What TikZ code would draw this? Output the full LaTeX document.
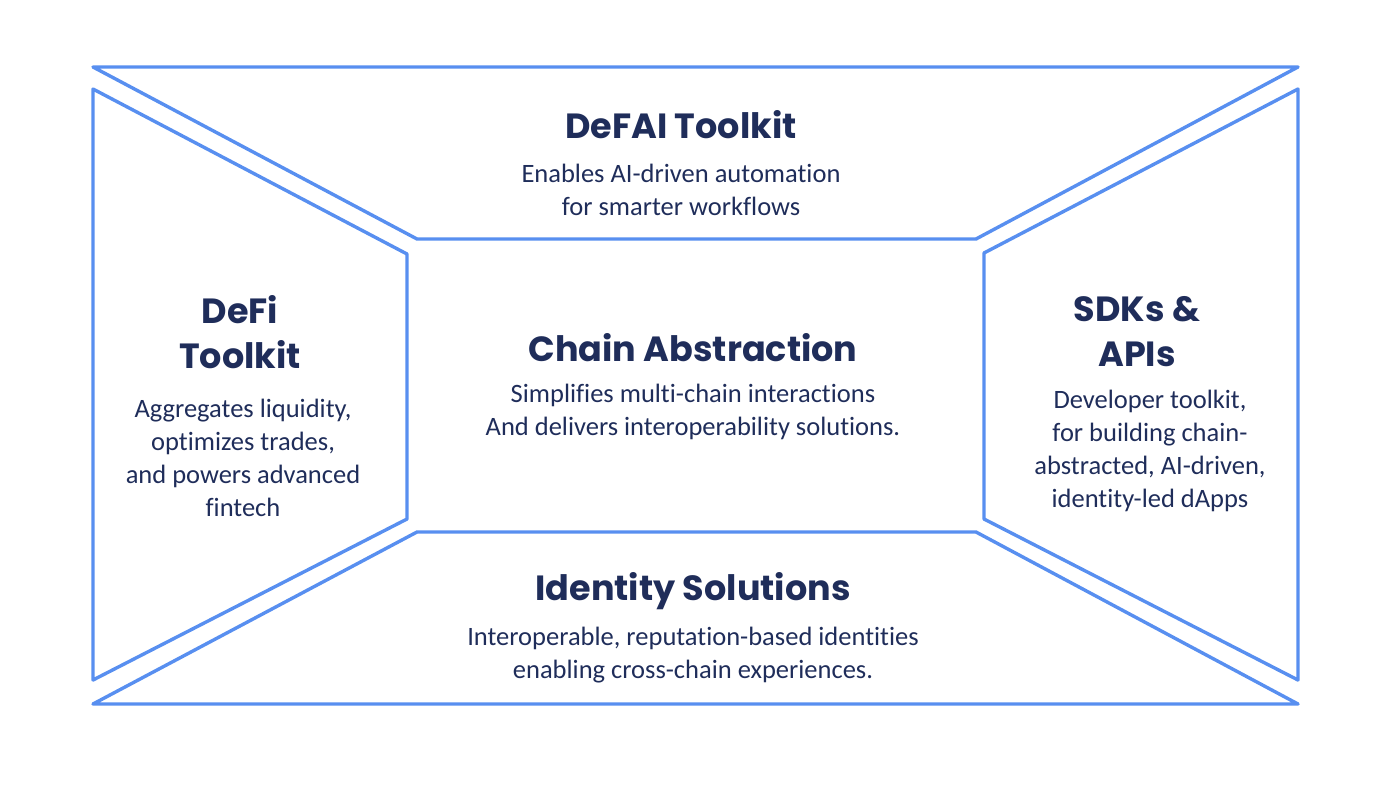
\documentclass[tikz,border=0pt]{standalone}
\usepackage{fontspec}
\setmainfont{Carlito}[Ligatures=NoCommon]
\newfontfamily\headfont{Poppins}
\usetikzlibrary{positioning}
\definecolor{panelblue}{RGB}{88,143,240}
\definecolor{inkblue}{RGB}{31,45,90}
\tikzset{
  panel/.style ={draw=panelblue,line width=3.4pt,line join=round},
  head/.style  ={font=\headfont\bfseries\fontsize{35}{45}\selectfont,text=inkblue,align=center,inner sep=0pt},
  body/.style  ={font=\fontsize{26.5}{33}\selectfont,text=inkblue,align=center,inner sep=0pt},
}

\begin{document}
\begin{tikzpicture}[x=1pt,y=-1pt]
  \useasboundingbox (0,0) rectangle (1400,796);
  % four panels round the centre
  \draw[panel] (93,67) -- (1298,67) -- (976,239) -- (417,239) -- cycle;
  \draw[panel] (93,89) -- (407,254) -- (407,519) -- (93,680) -- cycle;
  \draw[panel] (1298,89) -- (984,253) -- (984,519) -- (1298,680) -- cycle;
  \draw[panel] (417,532) -- (976,532) -- (1298,704) -- (93,704) -- cycle;
  % top
  \node[head] (defai) at (681,125) {DeFAI Toolkit};
  \node[body] (defaitxt) at (681,190) {Enables AI-driven automation\\for smarter workflows};
  % left
  \node[head] (defi) at (240,332) {DeFi\\Toolkit};
  \node[body] (defitxt) at (243,458) {Aggregates liquidity,\\optimizes trades,\\and powers advanced\\fintech};
  % centre
  \node[head] (chain) at (693,348) {Chain Abstraction};
  \node[body] (chaintxt) at (693,412) {Simplifies multi-chain interactions\\And delivers interoperability solutions.};
  % right
  \node[head] (sdk) at (1137,332) {SDKs \&\\APIs};
  \node[body] (sdktxt) at (1150,451) {Developer toolkit,\\for building chain-\\abstracted, AI-driven,\\identity-led dApps};
  % bottom
  \node[head] (ident) at (693,591) {Identity Solutions};
  \node[body] (identtxt) at (693,655) {Interoperable, reputation-based identities\\enabling cross-chain experiences.};
\end{tikzpicture}
\end{document}
